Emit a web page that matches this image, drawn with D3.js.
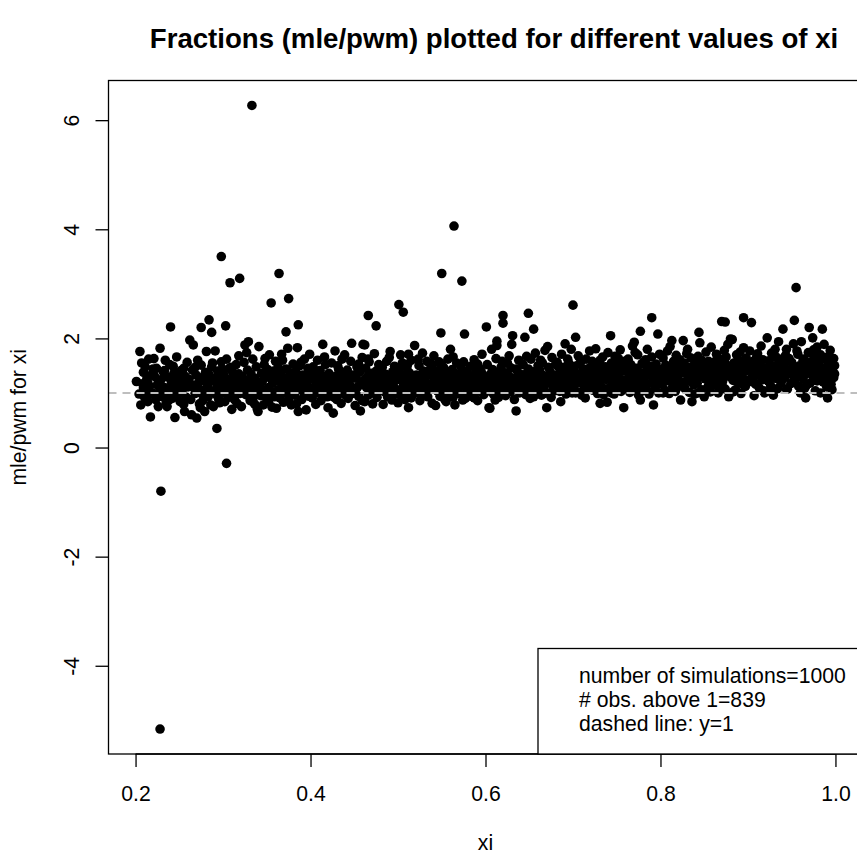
<!DOCTYPE html>
<html>
<head>
<meta charset="utf-8">
<script src="https://cdn.jsdelivr.net/npm/d3@7"></script>
<style>
  html, body { margin: 0; padding: 0; background: #ffffff; }
  svg { display: block; font-family: "Liberation Sans", Arial, Helvetica, sans-serif; }
</style>
</head>
<body>
<svg id="chart" width="857" height="856"></svg>
<script>
// ---- data -----------------------------------------------------------
const titleText = "Fractions (mle/pwm) plotted for different values of xi";
const xLabel = "xi";
const yLabel = "mle/pwm for xi";
const xTicks = [0.2, 0.4, 0.6, 0.8, 1.0];
const yTicks = [-4, -2, 0, 2, 4, 6];
const refLine = 1;
const legendLines = ["number of simulations=1000", "# obs. above 1=839", "dashed line: y=1"];

// [xi, mle/pwm] pairs (band estimated, outliers read individually)
const outlierPoints = [
  [0.228,-5.16],[0.229,-0.80],[0.304,-0.29],[0.293,0.35],[0.333,6.27],[0.298,3.50],[0.308,3.02],[0.319,3.10],
  [0.240,2.21],[0.275,2.20],[0.284,2.34],[0.287,2.11],[0.303,2.23],[0.355,2.65],[0.364,3.19],[0.372,2.12],
  [0.375,2.73],[0.386,2.25],[0.466,2.42],[0.475,2.23],[0.501,2.62],[0.506,2.48],[0.512,1.71],[0.549,2.10],
  [0.550,3.19],[0.564,4.06],[0.573,3.05],[0.576,2.08],[0.601,2.21],[0.620,2.42],[0.620,2.28],[0.613,1.87],
  [0.649,2.46],[0.655,2.17],[0.700,2.61],[0.777,2.13],[0.790,2.38],[0.797,2.08],[0.874,2.30],[0.895,2.38]
];
const bandPoints = [
  [0.201,1.21],[0.204,0.98],[0.205,1.76],[0.206,0.78],[0.207,1.55],[0.208,1.17],[0.209,1.38],[0.210,0.93],[0.211,1.48],[0.212,1.05],[0.213,1.27],[0.214,0.84],[0.215,1.62],[0.216,1.12],[0.217,0.56],[0.218,1.33],[0.219,1.00],[0.220,1.44],[0.209,1.09],[0.214,1.19],[0.217,0.99],
  [0.221,1.63],[0.222,1.30],[0.223,0.88],[0.224,1.45],[0.225,1.15],[0.226,0.75],[0.227,1.02],[0.228,1.82],[0.229,1.24],[0.230,0.96],[0.231,0.93],[0.232,1.38],[0.233,1.10],[0.234,1.60],[0.235,0.82],[0.236,0.75],[0.237,1.29],[0.238,1.05],[0.239,1.52],[0.240,0.98],[0.226,1.19],[0.233,1.41],[0.238,0.87],
  [0.241,1.20],[0.242,0.90],[0.243,1.49],[0.244,1.08],[0.245,0.55],[0.246,1.33],[0.247,1.66],[0.248,0.97],[0.249,1.14],[0.250,1.26],[0.251,0.84],[0.252,1.41],[0.253,1.03],[0.254,1.18],[0.255,1.45],[0.256,0.66],[0.257,1.30],[0.258,0.92],[0.259,1.56],[0.260,1.11],[0.244,1.37],[0.250,0.99],[0.255,0.79],[0.258,1.22],
  [0.261,1.25],[0.262,1.97],[0.263,0.88],[0.264,0.60],[0.265,1.42],[0.266,1.88],[0.267,1.10],[0.268,0.99],[0.269,1.33],[0.270,0.54],[0.271,1.60],[0.272,1.19],[0.273,0.80],[0.274,0.73],[0.275,1.51],[0.276,1.05],[0.277,1.29],[0.278,0.94],[0.279,0.66],[0.280,1.38],[0.263,1.16],[0.268,1.47],[0.272,1.01],[0.277,0.86],[0.279,1.22],
  [0.281,1.76],[0.282,1.12],[0.283,0.93],[0.284,1.34],[0.285,1.21],[0.286,0.78],[0.287,1.48],[0.288,1.03],[0.289,0.75],[0.290,1.27],[0.291,1.77],[0.292,0.97],[0.293,1.15],[0.294,1.40],[0.295,0.88],[0.296,1.08],[0.297,1.31],[0.298,1.57],[0.299,1.00],[0.300,1.19],[0.284,1.06],[0.288,1.55],[0.292,1.24],[0.296,0.82],[0.299,1.44],
  [0.301,1.33],[0.302,0.84],[0.303,1.10],[0.304,1.62],[0.305,1.25],[0.306,0.92],[0.307,1.45],[0.308,1.02],[0.309,1.18],[0.310,0.70],[0.311,1.38],[0.312,1.06],[0.313,1.28],[0.314,0.96],[0.315,1.52],[0.316,0.81],[0.317,1.14],[0.318,1.35],[0.319,0.99],[0.320,1.22],[0.305,1.04],[0.309,1.47],[0.313,0.88],[0.318,1.68],
  [0.321,0.75],[0.322,1.30],[0.323,1.12],[0.324,1.56],[0.325,1.88],[0.326,0.97],[0.327,1.21],[0.328,1.42],[0.329,1.94],[0.330,1.05],[0.331,0.86],[0.332,1.35],[0.333,1.16],[0.334,1.62],[0.335,0.93],[0.336,1.27],[0.337,1.08],[0.338,1.48],[0.339,0.71],[0.340,0.66],[0.323,1.01],[0.327,1.74],[0.331,1.24],[0.336,0.80],[0.339,1.19],
  [0.341,1.85],[0.342,1.14],[0.343,0.95],[0.344,1.36],[0.345,1.22],[0.346,0.78],[0.347,1.52],[0.348,1.04],[0.349,1.29],[0.350,0.89],[0.351,1.43],[0.352,1.10],[0.353,1.70],[0.354,0.99],[0.355,1.26],[0.356,0.74],[0.357,1.18],[0.358,1.40],[0.359,1.02],[0.360,1.58],[0.344,1.07],[0.348,1.63],[0.352,0.84],[0.357,1.32],[0.359,0.93],
  [0.361,0.72],[0.362,1.24],[0.363,1.47],[0.364,1.06],[0.365,0.91],[0.366,1.35],[0.367,1.16],[0.368,1.60],[0.369,0.83],[0.370,1.28],[0.371,1.00],[0.372,1.44],[0.373,1.11],[0.374,1.82],[0.375,0.95],[0.376,1.21],[0.377,1.37],[0.378,0.78],[0.379,1.09],[0.380,1.53],[0.363,0.98],[0.367,1.71],[0.371,1.19],[0.375,0.87],[0.379,1.31],
  [0.381,1.14],[0.382,0.96],[0.383,1.39],[0.384,1.25],[0.385,1.83],[0.386,0.66],[0.387,1.07],[0.388,1.50],[0.389,1.20],[0.390,0.88],[0.391,1.33],[0.392,1.02],[0.393,1.62],[0.394,1.16],[0.395,0.69],[0.396,1.29],[0.397,1.45],[0.398,0.94],[0.399,1.10],[0.400,1.37],[0.384,0.80],[0.389,1.56],[0.393,1.23],[0.397,1.04],[0.399,1.71],
  [0.401,1.26],[0.402,0.91],[0.403,1.48],[0.404,1.08],[0.405,1.34],[0.406,0.79],[0.407,1.17],[0.408,1.60],[0.409,1.00],[0.410,1.22],[0.411,1.41],[0.412,0.86],[0.413,1.13],[0.414,1.89],[0.415,1.30],[0.416,0.97],[0.417,1.52],[0.418,1.05],[0.419,1.19],[0.420,0.73],[0.404,1.38],[0.408,1.02],[0.412,1.27],[0.416,1.66],[0.419,0.93],
  [0.421,1.36],[0.422,1.12],[0.423,0.95],[0.424,1.55],[0.425,1.21],[0.426,0.63],[0.427,1.05],[0.428,1.77],[0.429,1.31],[0.430,0.88],[0.431,1.16],[0.432,1.44],[0.433,1.00],[0.434,1.25],[0.435,0.81],[0.436,1.62],[0.437,1.09],[0.438,1.35],[0.439,0.97],[0.440,1.20],[0.423,1.28],[0.427,0.92],[0.431,1.50],[0.435,1.14],[0.439,1.70],
  [0.441,1.08],[0.442,1.42],[0.443,0.90],[0.444,1.24],[0.445,1.15],[0.446,1.58],[0.447,1.91],[0.448,0.99],[0.449,1.33],[0.450,1.06],[0.451,0.77],[0.452,1.27],[0.453,1.48],[0.454,1.11],[0.455,0.94],[0.456,1.38],[0.457,0.67],[0.458,1.20],[0.459,1.65],[0.460,1.89],[0.443,1.18],[0.447,1.31],[0.451,1.03],[0.455,1.53],[0.459,0.86],
  [0.461,1.23],[0.462,0.84],[0.463,1.45],[0.464,1.10],[0.465,1.30],[0.466,0.96],[0.467,1.57],[0.468,1.17],[0.469,1.01],[0.470,1.36],[0.471,0.80],[0.472,1.26],[0.473,1.72],[0.474,1.07],[0.475,1.40],[0.476,0.92],[0.477,1.19],[0.478,1.52],[0.479,1.04],[0.480,1.29],[0.462,1.88],[0.466,1.62],[0.470,1.14],[0.474,0.99],[0.478,1.33],
  [0.481,1.13],[0.482,1.47],[0.483,0.79],[0.484,1.21],[0.485,1.02],[0.486,1.34],[0.487,1.58],[0.488,0.93],[0.489,1.16],[0.490,1.65],[0.491,1.27],[0.492,1.05],[0.493,0.87],[0.494,1.39],[0.495,1.11],[0.496,1.49],[0.497,0.98],[0.498,1.24],[0.499,1.36],[0.500,0.82],[0.483,1.30],[0.487,1.09],[0.491,1.76],[0.495,1.20],[0.499,1.00],
  [0.501,1.42],[0.502,1.06],[0.503,1.28],[0.504,0.95],[0.505,1.55],[0.506,1.18],[0.507,1.33],[0.508,0.88],[0.509,1.10],[0.510,1.46],[0.511,1.24],[0.512,0.73],[0.513,1.37],[0.514,1.02],[0.515,1.60],[0.516,1.15],[0.517,0.97],[0.518,1.29],[0.519,1.87],[0.520,1.08],[0.503,1.70],[0.507,1.00],[0.511,1.52],[0.515,0.91],[0.519,1.25],
  [0.521,1.33],[0.522,1.01],[0.523,1.19],[0.524,1.50],[0.525,0.86],[0.526,1.27],[0.527,1.09],[0.528,1.73],[0.529,1.40],[0.530,0.99],[0.531,1.22],[0.532,1.13],[0.533,1.58],[0.534,0.93],[0.535,1.35],[0.536,1.06],[0.537,1.44],[0.538,1.17],[0.539,0.81],[0.540,1.30],[0.523,1.62],[0.527,0.95],[0.531,1.38],[0.535,1.14],[0.539,1.52],
  [0.541,1.68],[0.542,1.12],[0.543,0.77],[0.544,1.26],[0.545,1.04],[0.546,1.41],[0.547,1.20],[0.548,0.94],[0.549,1.53],[0.550,1.31],[0.551,1.08],[0.552,1.47],[0.553,0.89],[0.554,1.16],[0.555,1.37],[0.556,1.02],[0.557,1.62],[0.558,1.24],[0.559,0.98],[0.560,1.80],[0.543,1.35],[0.547,1.57],[0.551,1.18],[0.555,0.84],[0.559,1.29],
  [0.561,1.11],[0.562,1.43],[0.563,0.92],[0.564,1.27],[0.565,0.78],[0.566,1.19],[0.567,1.55],[0.568,1.05],[0.569,1.34],[0.570,0.99],[0.571,1.23],[0.572,1.48],[0.573,1.14],[0.574,0.87],[0.575,1.57],[0.576,1.30],[0.577,0.90],[0.578,1.09],[0.579,1.40],[0.580,1.21],[0.563,1.66],[0.567,1.01],[0.571,1.36],[0.575,1.17],[0.579,0.96],
  [0.581,1.32],[0.582,1.06],[0.583,1.49],[0.584,0.94],[0.585,1.22],[0.586,1.15],[0.587,1.61],[0.588,1.00],[0.589,1.38],[0.590,1.27],[0.591,0.86],[0.592,1.12],[0.593,1.45],[0.594,1.03],[0.595,1.19],[0.596,1.71],[0.597,1.33],[0.598,0.97],[0.599,1.25],[0.600,1.09],[0.583,1.18],[0.587,0.91],[0.591,1.53],[0.595,1.40],[0.599,1.01],
  [0.601,1.26],[0.602,1.52],[0.603,1.04],[0.604,0.73],[0.605,0.72],[0.606,1.35],[0.607,1.17],[0.608,1.43],[0.609,0.98],[0.610,1.29],[0.611,1.10],[0.612,1.63],[0.613,1.95],[0.614,1.20],[0.615,0.92],[0.616,1.39],[0.617,1.07],[0.618,1.48],[0.619,1.23],[0.620,1.01],[0.603,1.14],[0.607,1.80],[0.611,0.87],[0.615,1.32],[0.619,1.58],
  [0.621,1.16],[0.622,1.37],[0.623,0.95],[0.624,1.24],[0.625,1.55],[0.626,1.08],[0.627,1.31],[0.628,1.02],[0.629,1.46],[0.630,1.89],[0.631,2.05],[0.632,1.19],[0.633,0.88],[0.634,1.27],[0.635,0.67],[0.636,1.41],[0.637,1.12],[0.638,1.60],[0.639,1.00],[0.640,1.34],[0.623,1.21],[0.627,1.68],[0.631,1.05],[0.635,1.44],[0.639,1.15],
  [0.641,1.29],[0.642,1.05],[0.643,1.52],[0.644,1.18],[0.645,2.02],[0.646,0.97],[0.647,1.36],[0.648,1.11],[0.649,1.44],[0.650,1.25],[0.651,0.90],[0.652,1.62],[0.653,1.21],[0.654,1.04],[0.655,1.39],[0.656,1.14],[0.657,1.73],[0.658,0.99],[0.659,1.31],[0.660,1.50],[0.643,1.01],[0.647,1.67],[0.651,1.26],[0.655,0.93],[0.659,1.19],
  [0.661,1.09],[0.662,1.42],[0.663,1.23],[0.664,0.96],[0.665,1.55],[0.666,1.32],[0.667,1.13],[0.668,1.78],[0.669,1.01],[0.670,0.73],[0.671,1.27],[0.672,1.47],[0.673,1.18],[0.674,1.38],[0.675,0.92],[0.676,1.65],[0.677,1.06],[0.678,1.30],[0.679,1.20],[0.680,1.52],[0.663,1.60],[0.667,0.99],[0.671,1.85],[0.675,1.35],[0.679,1.04],
  [0.681,1.24],[0.682,1.56],[0.683,1.12],[0.684,1.36],[0.685,1.03],[0.686,0.84],[0.687,1.71],[0.688,1.28],[0.689,1.47],[0.690,1.17],[0.691,1.90],[0.692,0.98],[0.693,1.33],[0.694,1.62],[0.695,1.09],[0.696,1.42],[0.697,1.21],[0.698,1.80],[0.699,1.00],[0.700,1.37],[0.683,1.49],[0.687,1.05],[0.691,1.29],[0.695,1.55],[0.699,1.15],
  [0.701,1.14],[0.702,1.49],[0.703,2.02],[0.704,1.26],[0.705,1.02],[0.706,1.68],[0.707,1.35],[0.708,1.19],[0.709,1.57],[0.710,0.96],[0.711,1.30],[0.712,1.44],[0.713,1.08],[0.714,0.91],[0.715,1.62],[0.716,1.24],[0.717,1.40],[0.718,1.12],[0.719,1.77],[0.720,1.33],[0.703,1.00],[0.707,1.53],[0.711,1.21],[0.715,1.05],[0.719,1.46],
  [0.721,1.27],[0.722,1.58],[0.723,1.05],[0.724,1.39],[0.725,1.17],[0.726,1.81],[0.727,1.30],[0.728,0.99],[0.729,1.51],[0.730,1.22],[0.731,0.81],[0.732,1.43],[0.733,1.11],[0.734,1.66],[0.735,1.34],[0.736,1.02],[0.737,1.48],[0.738,1.25],[0.739,0.83],[0.740,1.74],[0.723,1.45],[0.727,1.15],[0.731,1.60],[0.735,0.97],[0.739,1.38],
  [0.741,1.32],[0.742,1.10],[0.743,2.05],[0.744,1.55],[0.745,1.20],[0.746,1.43],[0.747,0.98],[0.748,1.67],[0.749,1.28],[0.750,1.06],[0.751,1.49],[0.752,1.36],[0.753,1.15],[0.754,1.79],[0.755,1.03],[0.756,1.41],[0.757,1.24],[0.758,0.73],[0.759,1.58],[0.760,1.19],[0.744,1.00],[0.748,1.37],[0.752,1.63],[0.756,1.12],[0.760,1.46],
  [0.761,1.40],[0.762,1.13],[0.763,1.62],[0.764,1.29],[0.765,1.01],[0.766,1.52],[0.767,1.21],[0.768,1.86],[0.769,1.35],[0.770,1.93],[0.771,1.09],[0.772,1.45],[0.773,1.26],[0.774,1.70],[0.775,0.96],[0.776,1.38],[0.777,0.87],[0.778,1.17],[0.779,1.54],[0.780,1.31],[0.763,1.08],[0.767,1.48],[0.771,1.74],[0.775,1.22],[0.779,1.04],
  [0.781,1.25],[0.782,1.57],[0.783,1.11],[0.784,1.41],[0.785,1.80],[0.786,1.02],[0.787,1.34],[0.788,1.49],[0.789,1.18],[0.790,1.66],[0.791,1.29],[0.792,0.78],[0.793,1.38],[0.794,1.07],[0.795,1.53],[0.796,1.21],[0.797,1.44],[0.798,1.00],[0.799,1.71],[0.800,1.32],[0.783,1.61],[0.787,0.98],[0.791,1.47],[0.795,1.14],[0.799,1.37],
  [0.801,1.43],[0.802,1.16],[0.803,1.64],[0.804,1.30],[0.805,1.05],[0.806,1.51],[0.807,1.22],[0.808,1.77],[0.809,1.38],[0.810,0.99],[0.811,1.46],[0.812,1.27],[0.813,1.96],[0.814,1.12],[0.815,1.58],[0.816,1.35],[0.817,1.03],[0.818,1.69],[0.819,1.20],[0.820,1.48],[0.803,1.00],[0.807,1.41],[0.811,1.85],[0.815,1.24],[0.819,1.10],
  [0.821,1.33],[0.822,1.61],[0.823,0.87],[0.824,1.42],[0.825,1.19],[0.826,1.96],[0.827,1.55],[0.828,1.08],[0.829,1.36],[0.830,1.72],[0.831,1.25],[0.832,1.47],[0.833,1.01],[0.834,1.30],[0.835,1.64],[0.836,0.84],[0.837,1.40],[0.838,1.15],[0.839,1.53],[0.840,1.28],[0.823,1.50],[0.827,1.12],[0.831,1.80],[0.835,1.21],[0.839,0.98],
  [0.841,1.44],[0.842,1.18],[0.843,1.67],[0.844,2.11],[0.845,1.92],[0.846,1.31],[0.847,1.06],[0.848,1.52],[0.849,1.38],[0.850,0.93],[0.851,1.26],[0.852,1.75],[0.853,1.45],[0.854,1.10],[0.855,1.58],[0.856,1.33],[0.857,1.02],[0.858,1.84],[0.859,1.40],[0.860,1.22],[0.843,1.00],[0.847,1.60],[0.851,1.35],[0.855,1.14],[0.859,1.49],
  [0.861,1.36],[0.862,1.57],[0.863,1.14],[0.864,1.71],[0.865,1.43],[0.866,1.00],[0.867,1.29],[0.868,1.62],[0.869,1.48],[0.870,2.31],[0.871,1.21],[0.872,1.39],[0.873,1.78],[0.874,1.07],[0.875,1.52],[0.876,1.33],[0.877,1.89],[0.878,0.93],[0.879,1.45],[0.880,1.99],[0.863,1.25],[0.867,1.54],[0.871,1.11],[0.875,1.66],[0.879,1.30],
  [0.881,1.41],[0.882,1.98],[0.883,1.23],[0.884,1.55],[0.885,1.35],[0.886,1.06],[0.887,1.70],[0.888,1.46],[0.889,1.18],[0.890,1.60],[0.891,1.31],[0.892,0.99],[0.893,1.50],[0.894,1.27],[0.895,1.83],[0.896,1.39],[0.897,1.12],[0.898,1.64],[0.899,1.44],[0.900,1.20],[0.883,1.02],[0.887,1.34],[0.891,1.75],[0.895,1.15],[0.899,1.57],
  [0.901,1.48],[0.902,1.77],[0.903,1.26],[0.904,2.29],[0.905,1.37],[0.906,1.58],[0.907,0.95],[0.908,1.43],[0.909,1.16],[0.910,1.67],[0.911,1.33],[0.912,1.52],[0.913,1.09],[0.914,1.40],[0.915,1.86],[0.916,1.24],[0.917,1.61],[0.918,1.04],[0.919,1.45],[0.920,1.30],[0.903,1.55],[0.907,1.19],[0.911,1.72],[0.915,1.38],[0.919,1.00],
  [0.921,1.37],[0.922,2.01],[0.923,1.22],[0.924,1.59],[0.925,1.44],[0.926,1.13],[0.927,1.73],[0.928,1.31],[0.929,0.96],[0.930,1.50],[0.931,1.27],[0.932,1.66],[0.933,1.40],[0.934,1.08],[0.935,1.94],[0.936,1.55],[0.937,1.34],[0.938,1.19],[0.939,1.62],[0.940,2.17],[0.923,1.47],[0.927,1.02],[0.931,1.80],[0.935,1.25],[0.939,1.43],
  [0.941,1.53],[0.942,1.28],[0.943,1.69],[0.944,1.80],[0.945,1.07],[0.946,1.41],[0.947,1.63],[0.948,1.35],[0.949,1.17],[0.950,1.56],[0.951,1.46],[0.952,1.90],[0.953,2.33],[0.954,1.24],[0.955,2.93],[0.956,1.38],[0.957,1.71],[0.958,1.12],[0.959,1.50],[0.960,1.32],[0.944,1.07],[0.948,1.58],[0.952,1.21],[0.956,1.77],[0.960,1.00],
  [0.961,1.94],[0.962,1.45],[0.963,1.26],[0.964,1.62],[0.965,1.09],[0.966,0.91],[0.967,1.51],[0.968,1.36],[0.969,1.74],[0.970,2.20],[0.971,1.18],[0.972,1.57],[0.973,1.42],[0.974,2.01],[0.975,1.29],[0.976,1.66],[0.977,1.04],[0.978,1.48],[0.979,1.84],[0.980,1.33],[0.963,1.60],[0.967,1.15],[0.971,1.39],[0.975,1.79],[0.979,1.22],
  [0.981,1.55],[0.982,1.31],[0.983,1.70],[0.984,1.46],[0.985,2.17],[0.986,1.20],[0.987,1.89],[0.988,1.38],[0.989,1.61],[0.990,1.11],[0.991,0.91],[0.992,1.52],[0.993,1.27],[0.994,1.78],[0.995,1.42],[0.996,1.06],[0.997,1.39],[0.998,1.63],[0.998,1.28],[0.999,1.50],[0.983,1.00],[0.987,1.24],[0.991,1.66],[0.995,1.16],[0.999,1.35]
];

// ---- layout ---------------------------------------------------------
const W = 857, H = 856;
const plot = { left: 108.5, right: 862.5, top: 80.5, bottom: 754 };
const FONT = 21.2;
const FAMILY = '"Liberation Sans", Arial, Helvetica, sans-serif';

const allPoints = bandPoints.concat(outlierPoints);

function rRange(ext) { const r = ext[1] - ext[0]; return [ext[0] - 0.04 * r, ext[1] + 0.04 * r]; }
const xExt = d3.extent(allPoints, d => d[0]);
const yExt = d3.extent(allPoints, d => d[1]);

const x = d3.scaleLinear().domain(rRange(xExt)).range([plot.left, plot.right]);
const y = d3.scaleLinear().domain(rRange(yExt)).range([plot.bottom, plot.top]);

const svg = d3.select("#chart");
svg.append("rect").attr("width", W).attr("height", H).attr("fill", "#ffffff");

// points
svg.append("g").selectAll("circle").data(allPoints).join("circle")
  .attr("cx", d => x(d[0])).attr("cy", d => y(d[1]))
  .attr("r", 4.8).attr("fill", "#000000");

// reference dashed line
svg.append("line")
  .attr("x1", plot.left).attr("x2", plot.right)
  .attr("y1", y(refLine)).attr("y2", y(refLine))
  .attr("stroke", "#bebebe").attr("stroke-width", 2)
  .attr("stroke-dasharray", "8,6");

// axes
const xAxis = svg.append("g").attr("transform", `translate(0,${plot.bottom})`)
  .call(d3.axisBottom(x).tickValues(xTicks).tickSize(13).tickFormat(d3.format(".1f")));
xAxis.select(".domain").remove();
xAxis.selectAll(".tick line").attr("stroke", "#000").attr("stroke-width", 1.3);
xAxis.selectAll(".tick text").attr("y", 47).attr("dy", 0)
  .attr("font-size", FONT).attr("fill", "#000").style("font-family", FAMILY);
xAxis.append("line").attr("x1", x(xTicks[0])).attr("x2", x(xTicks[xTicks.length - 1]))
  .attr("stroke", "#000").attr("stroke-width", 1.3);

const yAxis = svg.append("g").attr("transform", `translate(${plot.left},0)`)
  .call(d3.axisLeft(y).tickValues(yTicks).tickSize(13).tickFormat(d => String(d)));
yAxis.select(".domain").remove();
yAxis.selectAll(".tick line").attr("stroke", "#000").attr("stroke-width", 1.3);
yAxis.selectAll(".tick text")
  .attr("transform", "rotate(-90)")
  .attr("x", 0).attr("y", -29.2).attr("dy", 0)
  .attr("text-anchor", "middle")
  .attr("font-size", FONT).attr("fill", "#000").style("font-family", FAMILY);

// plot box
svg.append("rect")
  .attr("x", plot.left).attr("y", plot.top)
  .attr("width", plot.right - plot.left).attr("height", plot.bottom - plot.top)
  .attr("fill", "none").attr("stroke", "#000").attr("stroke-width", 1.3);

// title & labels
svg.append("text").attr("x", 494).attr("y", 47.5).attr("text-anchor", "middle")
  .attr("font-size", 27.6).attr("font-weight", "bold").attr("fill", "#000").text(titleText);
svg.append("text").attr("x", (plot.left + plot.right) / 2).attr("y", 850).attr("text-anchor", "middle")
  .attr("font-size", FONT).attr("fill", "#000").text(xLabel);
svg.append("text").attr("transform", `translate(25.5,${(plot.top + plot.bottom) / 2}) rotate(-90)`)
  .attr("text-anchor", "middle").attr("font-size", FONT).attr("fill", "#000").text(yLabel);

// legend
const lg = svg.append("g");
lg.append("rect").attr("x", 538).attr("y", 648.5)
  .attr("width", plot.right - 538).attr("height", plot.bottom - 648.5)
  .attr("fill", "#ffffff").attr("stroke", "#000").attr("stroke-width", 1.3);
lg.selectAll("text").data(legendLines).join("text")
  .attr("x", 579).attr("y", (d, i) => 683 + i * 24)
  .attr("font-size", FONT).attr("fill", "#000").text(d => d);
</script>
</body>
</html>
